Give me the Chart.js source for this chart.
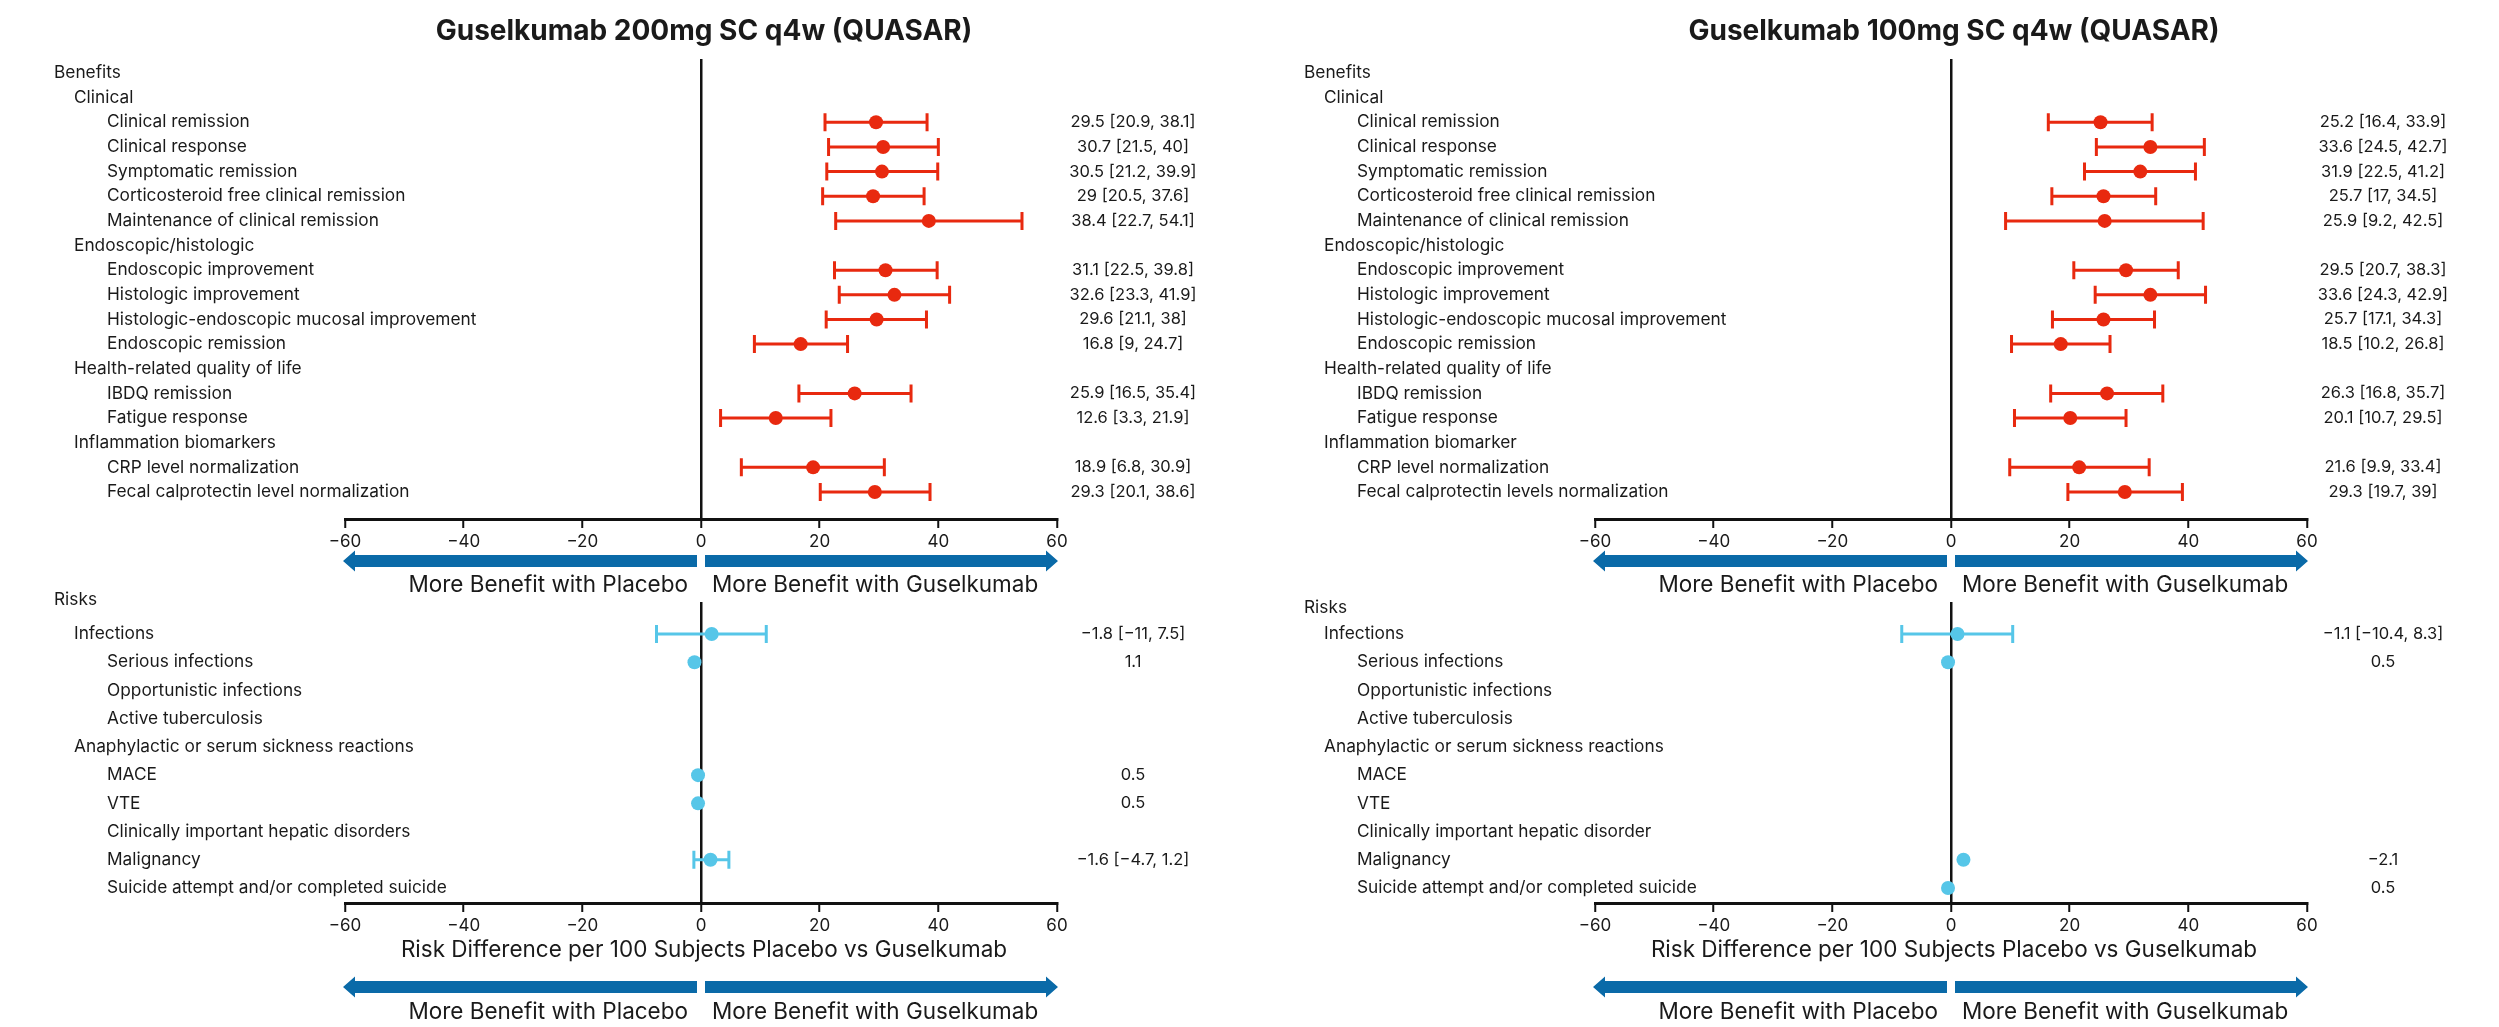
<!DOCTYPE html>
<html>
<head>
<meta charset="utf-8">
<script src="https://cdn.jsdelivr.net/npm/chart.js@4.4.1/dist/chart.umd.min.js"></script>
<style>
  html, body { margin: 0; padding: 0; background: #fff; }
  body { width: 2499px; height: 1027px; position: relative; overflow: hidden; }
  canvas { position: absolute; }
</style>
</head>
<body>
<canvas id="ben200" width="1250" height="600" style="left:0px;top:0px"></canvas>
<canvas id="risk200" width="1250" height="437" style="left:0px;top:590px"></canvas>
<canvas id="ben100" width="1249" height="600" style="left:1250px;top:0px"></canvas>
<canvas id="risk100" width="1249" height="437" style="left:1250px;top:590px"></canvas>
<script>
// ---- benefits ----
const benefitLabels200 = ['Benefits', 'Clinical', 'Clinical remission', 'Clinical response', 'Symptomatic remission',
  'Corticosteroid free clinical remission', 'Maintenance of clinical remission', 'Endoscopic/histologic',
  'Endoscopic improvement', 'Histologic improvement', 'Histologic-endoscopic mucosal improvement',
  'Endoscopic remission', 'Health-related quality of life', 'IBDQ remission', 'Fatigue response',
  'Inflammation biomarkers', 'CRP level normalization', 'Fecal calprotectin level normalization'];
const benefitLabels100 = ['Benefits', 'Clinical', 'Clinical remission', 'Clinical response', 'Symptomatic remission',
  'Corticosteroid free clinical remission', 'Maintenance of clinical remission', 'Endoscopic/histologic',
  'Endoscopic improvement', 'Histologic improvement', 'Histologic-endoscopic mucosal improvement',
  'Endoscopic remission', 'Health-related quality of life', 'IBDQ remission', 'Fatigue response',
  'Inflammation biomarker', 'CRP level normalization', 'Fecal calprotectin levels normalization'];
const benefitLevels = [0, 1, 2, 2, 2, 2, 2, 1, 2, 2, 2, 2, 1, 2, 2, 1, 2, 2];

const benefitEst200  = [null, null, 29.5, 30.7, 30.5, 29, 38.4, null, 31.1, 32.6, 29.6, 16.8, null, 25.9, 12.6, null, 18.9, 29.3];
const benefitLow200  = [null, null, 20.9, 21.5, 21.2, 20.5, 22.7, null, 22.5, 23.3, 21.1, 9, null, 16.5, 3.3, null, 6.8, 20.1];
const benefitHigh200 = [null, null, 38.1, 40, 39.9, 37.6, 54.1, null, 39.8, 41.9, 38, 24.7, null, 35.4, 21.9, null, 30.9, 38.6];

const benefitEst100  = [null, null, 25.2, 33.6, 31.9, 25.7, 25.9, null, 29.5, 33.6, 25.7, 18.5, null, 26.3, 20.1, null, 21.6, 29.3];
const benefitLow100  = [null, null, 16.4, 24.5, 22.5, 17, 9.2, null, 20.7, 24.3, 17.1, 10.2, null, 16.8, 10.7, null, 9.9, 19.7];
const benefitHigh100 = [null, null, 33.9, 42.7, 41.2, 34.5, 42.5, null, 38.3, 42.9, 34.3, 26.8, null, 35.7, 29.5, null, 33.4, 39];

// ---- risks (values as printed; the plot shows them with the sign flipped) ----
const riskLabels200 = ['Infections', 'Serious infections', 'Opportunistic infections', 'Active tuberculosis',
  'Anaphylactic or serum sickness reactions', 'MACE', 'VTE', 'Clinically important hepatic disorders',
  'Malignancy', 'Suicide attempt and/or completed suicide'];
const riskLabels100 = ['Infections', 'Serious infections', 'Opportunistic infections', 'Active tuberculosis',
  'Anaphylactic or serum sickness reactions', 'MACE', 'VTE', 'Clinically important hepatic disorder',
  'Malignancy', 'Suicide attempt and/or completed suicide'];
const riskLevels = [1, 2, 2, 2, 1, 2, 2, 2, 2, 2];

const riskEst200  = [-1.8, 1.1, null, null, null, 0.5, 0.5, null, -1.6, null];
const riskLow200  = [-11, null, null, null, null, null, null, null, -4.7, null];
const riskHigh200 = [7.5, null, null, null, null, null, null, null, 1.2, null];

const riskEst100  = [-1.1, 0.5, null, null, null, null, null, null, -2.1, 0.5];
const riskLow100  = [-10.4, null, null, null, null, null, null, null, null, null];
const riskHigh100 = [8.3, null, null, null, null, null, null, null, null, null];

const xTicks = [-60, -40, -20, 0, 20, 40, 60];

const RED = '#e8290f';
const CYAN = '#56c6e8';
const ARROW = '#0a6aa8';
const INK = '#1a1a1a';

Chart.defaults.font.family = 'Inter, "Liberation Sans", sans-serif';
Chart.defaults.color = INK;

const minus = v => String(v).replace('-', '\u2212');

function drawArrow(ctx, xFrom, xTip, yc) {
  const dir = Math.sign(xTip - xFrom), head = 12, bar = 6, hh = 10.5;
  ctx.beginPath();
  ctx.moveTo(xFrom, yc - bar);
  ctx.lineTo(xTip - dir * head, yc - bar);
  ctx.lineTo(xTip - dir * head, yc - hh);
  ctx.lineTo(xTip, yc);
  ctx.lineTo(xTip - dir * head, yc + hh);
  ctx.lineTo(xTip - dir * head, yc + bar);
  ctx.lineTo(xFrom, yc + bar);
  ctx.closePath();
  ctx.fill();
}

function arrowsRow(ctx, x, ya, yt) {
  const x0 = x.getPixelForValue(0);
  ctx.fillStyle = ARROW;
  drawArrow(ctx, x0 - 4, x.getPixelForValue(-60) - 2, ya);
  drawArrow(ctx, x0 + 4, x.getPixelForValue(60) + 1, ya);
  ctx.fillStyle = INK;
  ctx.font = '22.5px Inter';
  ctx.textBaseline = 'middle';
  ctx.textAlign = 'right';
  ctx.fillText('More Benefit with Placebo', x0 - 13, yt);
  ctx.textAlign = 'left';
  ctx.fillText('More Benefit with Guselkumab', x0 + 11, yt);
}

function decor(o) {
  return {
    id: 'decor',
    beforeDatasetsDraw(chart) {
      const { ctx, scales: { x, y } } = chart;
      ctx.save();
      ctx.strokeStyle = o.color;
      ctx.lineWidth = 3;
      o.low.forEach((lo, i) => {
        if (lo === null) return;
        const a = o.sign * lo, b = o.sign * o.high[i];
        const x1 = x.getPixelForValue(Math.min(a, b)), x2 = x.getPixelForValue(Math.max(a, b));
        const yy = y.getPixelForValue(i);
        ctx.beginPath();
        ctx.moveTo(x1, yy); ctx.lineTo(x2, yy);
        ctx.moveTo(x1, yy - 9); ctx.lineTo(x1, yy + 9);
        ctx.moveTo(x2, yy - 9); ctx.lineTo(x2, yy + 9);
        ctx.stroke();
      });
      ctx.restore();
    },
    afterDraw(chart) {
      const { ctx, chartArea, scales: { x, y } } = chart;
      const indent = [54, 74, 107];
      ctx.save();
      ctx.fillStyle = INK;
      ctx.textBaseline = 'middle';
      ctx.font = '17.3px Inter';
      ctx.textAlign = 'left';
      if (o.header) ctx.fillText(o.header, indent[0], y.getPixelForValue(o.headerRow));
      o.labels.forEach((t, i) => ctx.fillText(t, indent[o.levels[i]], y.getPixelForValue(i)));
      ctx.textAlign = 'center';
      ctx.font = '16.5px Inter';
      o.est.forEach((v, i) => {
        if (v === null) return;
        let s = minus(v);
        if (o.low[i] !== null) s += ' [' + minus(o.low[i]) + ', ' + minus(o.high[i]) + ']';
        ctx.fillText(s, chartArea.right + 76, y.getPixelForValue(i));
      });
      const x0 = x.getPixelForValue(0);
      if (o.title) {
        ctx.font = 'bold 28px Inter';
        ctx.fillText(o.title, x0 + 3, 32);
        arrowsRow(ctx, x, chartArea.bottom + 42, chartArea.bottom + 66);
      } else {
        ctx.font = '22.5px Inter';
        ctx.textAlign = 'center';
        ctx.fillText('Risk Difference per 100 Subjects Placebo vs Guselkumab', x0 + 3, chartArea.bottom + 47);
        arrowsRow(ctx, x, chartArea.bottom + 84, chartArea.bottom + 109);
      }
      ctx.restore();
    }
  };
}

function forest(id, o) {
  const pts = [];
  o.est.forEach((v, i) => { if (v !== null) pts.push({ x: o.sign * v, y: i }); });
  return new Chart(document.getElementById(id), {
    type: 'scatter',
    data: { datasets: [{ data: pts, backgroundColor: o.color, borderWidth: 0, pointRadius: 7, pointHoverRadius: 7 }] },
    options: {
      responsive: false,
      animation: false,
      events: [],
      layout: { padding: { left: 345, right: o.padRight, top: o.padTop, bottom: o.padBottom } },
      plugins: { legend: { display: false }, tooltip: { enabled: false } },
      scales: {
        x: {
          type: 'linear', min: -60, max: 60,
          afterBuildTicks: s => { s.ticks = xTicks.map(v => ({ value: v })); },
          afterFit: s => { s.height = 30; },
          ticks: { padding: 4, color: INK, font: { size: 17 }, callback: v => minus(v) },
          grid: {
            color: c => (c.tick && c.tick.value === 0 ? '#111' : 'rgba(0,0,0,0)'),
            lineWidth: 2.5, drawTicks: true, tickLength: 9, tickColor: '#111', tickWidth: 2
          },
          border: { display: true, color: '#111', width: 3 }
        },
        y: { type: 'linear', reverse: true, min: o.yMin, max: o.yMax, display: false }
      }
    },
    plugins: [decor(o)]
  });
}

const benefitRange = { yMin: -0.568, yMax: 18.095, padTop: 59, padBottom: 51 };
const riskRange = { yMin: -1.134, yMax: 9.53, padTop: 12, padBottom: 94 };

forest('ben200', Object.assign({
  title: 'Guselkumab 200mg SC q4w (QUASAR)', labels: benefitLabels200, levels: benefitLevels,
  est: benefitEst200, low: benefitLow200, high: benefitHigh200, sign: 1, color: RED, padRight: 193
}, benefitRange));
forest('ben100', Object.assign({
  title: 'Guselkumab 100mg SC q4w (QUASAR)', labels: benefitLabels100, levels: benefitLevels,
  est: benefitEst100, low: benefitLow100, high: benefitHigh100, sign: 1, color: RED, padRight: 192
}, benefitRange));
forest('risk200', Object.assign({
  header: 'Risks', headerRow: -1.2, labels: riskLabels200, levels: riskLevels,
  est: riskEst200, low: riskLow200, high: riskHigh200, sign: -1, color: CYAN, padRight: 193
}, riskRange));
forest('risk100', Object.assign({
  header: 'Risks', headerRow: -0.92, labels: riskLabels100, levels: riskLevels,
  est: riskEst100, low: riskLow100, high: riskHigh100, sign: -1, color: CYAN, padRight: 192
}, riskRange));
</script>
</body>
</html>
